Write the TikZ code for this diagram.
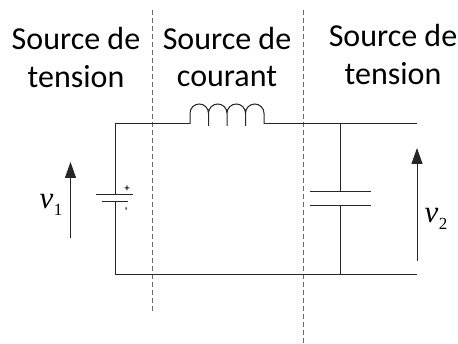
\documentclass[tikz,border=0pt]{standalone}
\usepackage{amsmath}
\usepackage{fontspec}
\setmainfont{Carlito}
\newfontfamily\voltfont{Liberation Serif}
\usetikzlibrary{arrows.meta}
\newcommand{\voltlabel}[1]{{\voltfont\fontsize{31}{31}\selectfont\itshape v\kern0.5pt\raisebox{-7pt}{\upshape\fontsize{17}{17}\selectfont #1}}}

\begin{document}
\begin{tikzpicture}[
    x=1pt, y=-1pt,
    wire/.style={line width=1pt, black!85},
    plate/.style={line width=1pt, black!85},
    border/.style={line width=0.9pt, black!60, dash pattern=on 5.5pt off 2.5pt},
    arrow/.style={-{Triangle[length=16pt, width=11pt]}, line width=1pt, black!85},
    title/.style={font=\fontsize{32}{32}\selectfont, inner sep=0pt},
    volt/.style={inner sep=0pt},
    pole/.style={font=\bfseries\fontsize{10}{10}\selectfont, inner sep=0pt}
]
    \useasboundingbox (0,0) rectangle (458,344);

    % Zone titles
    \node[title] (srcA) at (76, 39) {Source de};
    \node[title] (tensA) at (76, 77) {tension};
    \node[title] (srcB) at (227, 39) {Source de};
    \node[title] (cour) at (227, 77) {courant};
    \node[title] (srcC) at (393, 36) {Source de};
    \node[title] (tensC) at (393, 74) {tension};

    % Zone borders
    \coordinate (b1top) at (152, 10);
    \coordinate (b1bot) at (152, 312);
    \coordinate (b2top) at (303, 10);
    \coordinate (b2bot) at (303, 344);
    \draw[border] (b1top) -- (b1bot);
    \draw[border] (b2top) -- (b2bot);

    % Corners
    \coordinate (tl) at (115, 124);
    \coordinate (bl) at (115, 275);
    \coordinate (tc) at (340, 124);
    \coordinate (bc) at (340, 275);
    \coordinate (tr) at (417, 124);
    \coordinate (br) at (417, 275);
    \coordinate (lstart) at (190, 124);
    \coordinate (lend) at (264, 124);

    % Battery
    \coordinate (batA) at (115, 195);
    \coordinate (batB) at (115, 201.5);
    \draw[plate] (96, 195) -- (133, 195);
    \draw[plate] (102, 201.5) -- (128, 201.5);
    \node[pole] (plus) at (127, 189) {+};
    \node[pole, rotate=90] (minus) at (127.5, 209) {-};

    % Capacitor
    \coordinate (capA) at (340, 192);
    \coordinate (capB) at (340, 206);
    \draw[plate] (310, 192) -- (371, 192);
    \draw[plate] (310, 206) -- (371, 206);

    % Wires
    \draw[wire] (lstart) -- (tl) -- (batA);
    \draw[wire] (batB) -- (bl) -- (br);
    \draw[wire] (lend) -- (tr);
    \draw[wire] (tc) -- (capA);
    \draw[wire] (capB) -- (bc);

    % Inductor
    \draw[wire] (lstart) -- (190, 113.25)
        arc[start angle=180, end angle=360, radius=9.25] -- (208.5, 126) -- (208.5, 113.25)
        arc[start angle=180, end angle=360, radius=9.25] -- (227, 126) -- (227, 113.25)
        arc[start angle=180, end angle=360, radius=9.25] -- (245.5, 126) -- (245.5, 113.25)
        arc[start angle=180, end angle=360, radius=9.25] -- (lend);

    % Voltages
    \coordinate (v1bot) at (70.5, 238);
    \coordinate (v1top) at (70.5, 162);
    \coordinate (v2bot) at (417, 261);
    \coordinate (v2top) at (417, 148);
    \draw[arrow] (v1bot) -- (v1top);
    \draw[arrow] (v2bot) -- (v2top);
    \node[volt] (v1) at (51, 205) {\voltlabel{1}};
    \node[volt] (v2) at (436, 219) {\voltlabel{2}};
\end{tikzpicture}
\end{document}
